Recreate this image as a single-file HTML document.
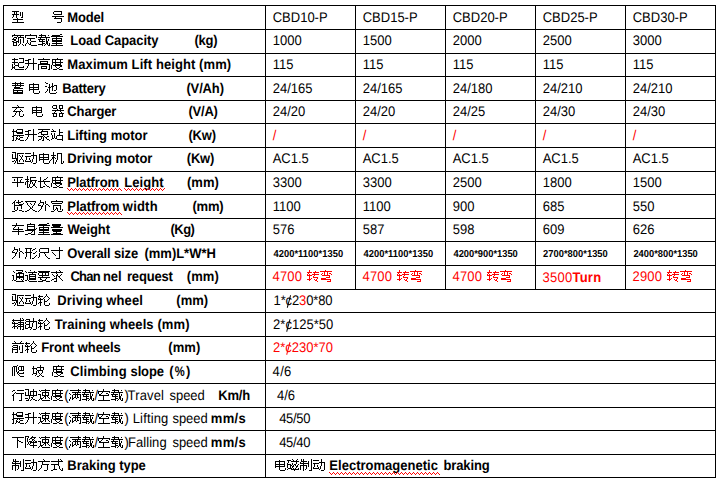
<!DOCTYPE html>
<html lang="zh"><head><meta charset="utf-8"><title>Pallet truck specifications</title>
<style>
html,body{margin:0;padding:0;background:#fff;}
body{width:720px;height:484px;position:relative;overflow:hidden;font-family:"Liberation Sans",sans-serif;font-size:14.0px;color:#000;}
.h,.v{position:absolute;background:#000;}
.h{height:1px;}
.v{width:1px;}
.row{position:absolute;left:0;width:720px;height:24px;}
.t{position:absolute;top:0;white-space:pre;line-height:24px;height:24px;left:0;transform-origin:0 0;text-rendering:geometricPrecision;}
.c{position:absolute;top:5px;height:15px;line-height:0;display:flex;}
.b{font-weight:bold;}
.r{color:#f00;}
.s{font-weight:bold;font-size:10.05px;line-height:25px;top:1px;}
.p{font-size:12px;}
.cj{display:flex;}
.g{width:13px;height:15px;fill:currentColor;display:block;flex:none;overflow:visible;}
.ct{position:relative;display:inline-block;}
.ct i{position:absolute;left:2.6px;top:6.5px;width:1px;height:13px;background:currentColor;transform:rotate(16deg);}
.sq{position:absolute;top:18px;fill:#f00;display:block;}
</style></head><body>
<svg width="0" height="0" style="position:absolute"><defs><path id="u4E0B" d="M1 2h12v1h-12zM6 3h1v1h-1zM6 4h1v1h-1zM6 5h2v1h-2zM6 6h1v1h-1zM8 6h2v1h-2zM6 7h1v1h-1zM10 7h2v1h-2zM6 8h1v1h-1zM6 9h1v1h-1zM6 10h1v1h-1zM6 11h1v1h-1zM6 12h1v1h-1z"/><path id="u5145" d="M6 1h1v1h-1zM7 2h1v1h-1zM1 3h12v1h-12zM5 4h1v1h-1zM4 5h1v1h-1zM9 5h1v1h-1zM3 6h1v1h-1zM10 6h1v1h-1zM2 7h8v1h-8zM11 7h1v1h-1zM5 8h1v1h-1zM8 8h1v1h-1zM4 9h1v1h-1zM8 9h1v1h-1zM4 10h1v1h-1zM8 10h1v1h-1zM12 10h1v1h-1zM3 11h1v1h-1zM8 11h1v1h-1zM12 11h1v1h-1zM1 12h2v1h-2zM9 12h3v1h-3z"/><path id="u5236" d="M2 1h1v1h-1zM4 1h1v1h-1zM12 1h1v1h-1zM2 2h1v1h-1zM4 2h1v1h-1zM12 2h1v1h-1zM2 3h6v1h-6zM9 3h1v1h-1zM12 3h1v1h-1zM1 4h1v1h-1zM4 4h1v1h-1zM9 4h1v1h-1zM12 4h1v1h-1zM1 5h9v1h-9zM12 5h1v1h-1zM4 6h1v1h-1zM9 6h1v1h-1zM12 6h1v1h-1zM1 7h7v1h-7zM9 7h1v1h-1zM12 7h1v1h-1zM1 8h1v1h-1zM4 8h1v1h-1zM7 8h1v1h-1zM9 8h1v1h-1zM12 8h1v1h-1zM1 9h1v1h-1zM4 9h1v1h-1zM7 9h1v1h-1zM12 9h1v1h-1zM1 10h1v1h-1zM4 10h1v1h-1zM7 10h1v1h-1zM12 10h1v1h-1zM1 11h1v1h-1zM4 11h1v1h-1zM6 11h1v1h-1zM12 11h1v1h-1zM4 12h1v1h-1zM10 12h3v1h-3z"/><path id="u524D" d="M3 1h1v1h-1zM10 1h1v1h-1zM4 2h1v1h-1zM9 2h1v1h-1zM1 3h12v1h-12zM2 5h5v1h-5zM11 5h1v1h-1zM1 6h1v1h-1zM6 6h1v1h-1zM8 6h1v1h-1zM11 6h1v1h-1zM2 7h5v1h-5zM8 7h1v1h-1zM11 7h1v1h-1zM1 8h1v1h-1zM6 8h1v1h-1zM8 8h1v1h-1zM11 8h1v1h-1zM1 9h6v1h-6zM8 9h1v1h-1zM11 9h1v1h-1zM1 10h1v1h-1zM6 10h1v1h-1zM11 10h1v1h-1zM1 11h1v1h-1zM6 11h1v1h-1zM11 11h1v1h-1zM1 12h1v1h-1zM4 12h3v1h-3zM9 12h3v1h-3z"/><path id="u52A8" d="M9 1h1v1h-1zM1 2h6v1h-6zM9 2h1v1h-1zM9 3h1v1h-1zM7 4h6v1h-6zM1 5h6v1h-6zM9 5h1v1h-1zM12 5h1v1h-1zM2 6h1v1h-1zM9 6h1v1h-1zM12 6h1v1h-1zM2 7h1v1h-1zM5 7h1v1h-1zM9 7h1v1h-1zM12 7h1v1h-1zM2 8h1v1h-1zM5 8h1v1h-1zM8 8h1v1h-1zM12 8h1v1h-1zM1 9h1v1h-1zM6 9h1v1h-1zM8 9h1v1h-1zM12 9h1v1h-1zM1 10h6v1h-6zM8 10h1v1h-1zM12 10h1v1h-1zM7 11h1v1h-1zM12 11h1v1h-1zM9 12h3v1h-3z"/><path id="u52A9" d="M9 1h1v1h-1zM2 2h4v1h-4zM9 2h1v1h-1zM1 3h1v1h-1zM5 3h1v1h-1zM9 3h1v1h-1zM2 4h11v1h-11zM1 5h1v1h-1zM5 5h1v1h-1zM9 5h1v1h-1zM12 5h1v1h-1zM1 6h1v1h-1zM5 6h1v1h-1zM8 6h1v1h-1zM12 6h1v1h-1zM2 7h4v1h-4zM8 7h1v1h-1zM12 7h1v1h-1zM1 8h1v1h-1zM5 8h1v1h-1zM8 8h1v1h-1zM12 8h1v1h-1zM1 9h1v1h-1zM5 9h1v1h-1zM8 9h1v1h-1zM12 9h1v1h-1zM1 10h1v1h-1zM4 10h4v1h-4zM12 10h1v1h-1zM1 11h3v1h-3zM7 11h1v1h-1zM12 11h1v1h-1zM6 12h1v1h-1zM9 12h3v1h-3z"/><path id="u5347" d="M9 1h1v1h-1zM4 2h3v1h-3zM9 2h1v1h-1zM1 3h4v1h-4zM9 3h1v1h-1zM4 4h1v1h-1zM9 4h1v1h-1zM4 5h1v1h-1zM9 5h1v1h-1zM1 6h12v1h-12zM4 7h1v1h-1zM9 7h1v1h-1zM4 8h1v1h-1zM9 8h1v1h-1zM3 9h1v1h-1zM9 9h1v1h-1zM3 10h1v1h-1zM9 10h1v1h-1zM2 11h1v1h-1zM9 11h1v1h-1zM1 12h1v1h-1zM9 12h1v1h-1z"/><path id="u53C9" d="M1 2h11v1h-11zM2 3h1v1h-1zM11 3h1v1h-1zM3 4h1v1h-1zM6 4h1v1h-1zM10 4h1v1h-1zM3 5h1v1h-1zM7 5h1v1h-1zM10 5h1v1h-1zM4 6h1v1h-1zM9 6h1v1h-1zM5 7h1v1h-1zM8 7h1v1h-1zM6 8h1v1h-1zM8 8h1v1h-1zM6 9h2v1h-2zM5 10h1v1h-1zM8 10h1v1h-1zM3 11h2v1h-2zM9 11h2v1h-2zM1 12h2v1h-2zM11 12h2v1h-2z"/><path id="u53F7" d="M3 1h8v1h-8zM2 2h1v1h-1zM10 2h1v1h-1zM2 3h1v1h-1zM10 3h1v1h-1zM3 4h8v1h-8zM1 6h12v1h-12zM4 7h1v1h-1zM3 8h8v1h-8zM10 9h1v1h-1zM10 10h1v1h-1zM10 11h1v1h-1zM6 12h4v1h-4z"/><path id="u5668" d="M2 1h4v1h-4zM8 1h4v1h-4zM1 2h1v1h-1zM5 2h1v1h-1zM8 2h1v1h-1zM11 2h1v1h-1zM1 3h1v1h-1zM5 3h1v1h-1zM8 3h1v1h-1zM11 3h1v1h-1zM2 4h4v1h-4zM8 4h4v1h-4zM6 5h1v1h-1zM9 5h1v1h-1zM1 6h12v1h-12zM4 7h1v1h-1zM9 7h1v1h-1zM3 8h1v1h-1zM10 8h1v1h-1zM1 9h5v1h-5zM8 9h5v1h-5zM2 10h1v1h-1zM5 10h1v1h-1zM8 10h1v1h-1zM11 10h1v1h-1zM2 11h1v1h-1zM5 11h1v1h-1zM8 11h1v1h-1zM11 11h1v1h-1zM2 12h4v1h-4zM8 12h4v1h-4z"/><path id="u5761" d="M9 1h1v1h-1zM2 2h1v1h-1zM9 2h1v1h-1zM2 3h1v1h-1zM6 3h7v1h-7zM1 4h5v1h-5zM9 4h1v1h-1zM12 4h1v1h-1zM2 5h1v1h-1zM5 5h1v1h-1zM9 5h1v1h-1zM12 5h1v1h-1zM2 6h1v1h-1zM6 6h6v1h-6zM2 7h1v1h-1zM5 7h1v1h-1zM7 7h1v1h-1zM11 7h1v1h-1zM2 8h1v1h-1zM5 8h1v1h-1zM7 8h1v1h-1zM11 8h1v1h-1zM2 9h4v1h-4zM8 9h1v1h-1zM10 9h1v1h-1zM1 10h1v1h-1zM5 10h1v1h-1zM9 10h1v1h-1zM4 11h1v1h-1zM8 11h1v1h-1zM10 11h1v1h-1zM6 12h2v1h-2zM11 12h2v1h-2z"/><path id="u578B" d="M1 1h7v1h-7zM3 2h1v1h-1zM5 2h1v1h-1zM9 2h1v1h-1zM11 2h1v1h-1zM3 3h1v1h-1zM5 3h1v1h-1zM9 3h1v1h-1zM11 3h1v1h-1zM1 4h7v1h-7zM9 4h1v1h-1zM11 4h1v1h-1zM2 5h1v1h-1zM5 5h1v1h-1zM9 5h1v1h-1zM11 5h1v1h-1zM2 6h1v1h-1zM5 6h1v1h-1zM11 6h1v1h-1zM1 7h1v1h-1zM5 7h1v1h-1zM10 7h2v1h-2zM6 8h1v1h-1zM2 9h10v1h-10zM6 10h1v1h-1zM6 11h1v1h-1zM1 12h12v1h-12z"/><path id="u5916" d="M3 1h1v1h-1zM3 2h1v1h-1zM8 2h1v1h-1zM3 3h4v1h-4zM8 3h1v1h-1zM2 4h1v1h-1zM6 4h1v1h-1zM8 4h1v1h-1zM1 5h1v1h-1zM6 5h1v1h-1zM9 5h2v1h-2zM1 6h3v1h-3zM5 6h1v1h-1zM8 6h1v1h-1zM11 6h1v1h-1zM4 7h2v1h-2zM8 7h1v1h-1zM12 7h1v1h-1zM4 8h1v1h-1zM8 8h1v1h-1zM4 9h1v1h-1zM8 9h1v1h-1zM3 10h1v1h-1zM8 10h1v1h-1zM2 11h1v1h-1zM8 11h1v1h-1zM1 12h1v1h-1z"/><path id="u5B9A" d="M6 1h1v1h-1zM1 2h12v1h-12zM1 3h1v1h-1zM12 3h1v1h-1zM1 4h1v1h-1zM12 4h1v1h-1zM3 5h8v1h-8zM6 6h1v1h-1zM3 7h1v1h-1zM6 7h1v1h-1zM3 8h1v1h-1zM7 8h5v1h-5zM3 9h1v1h-1zM6 9h1v1h-1zM2 10h1v1h-1zM4 10h1v1h-1zM6 10h1v1h-1zM1 11h1v1h-1zM5 11h2v1h-2zM1 12h1v1h-1zM7 12h6v1h-6z"/><path id="u5BBD" d="M6 1h1v1h-1zM1 2h12v1h-12zM1 3h1v1h-1zM12 3h1v1h-1zM2 4h10v1h-10zM3 6h8v1h-8zM3 7h1v1h-1zM10 7h1v1h-1zM3 8h1v1h-1zM6 8h1v1h-1zM10 8h1v1h-1zM3 9h1v1h-1zM6 9h2v1h-2zM10 9h1v1h-1zM3 10h1v1h-1zM5 10h1v1h-1zM7 10h1v1h-1zM10 10h1v1h-1zM12 10h1v1h-1zM4 11h1v1h-1zM7 11h1v1h-1zM12 11h1v1h-1zM1 12h3v1h-3zM8 12h4v1h-4z"/><path id="u5BF8" d="M9 1h1v1h-1zM9 2h1v1h-1zM9 3h1v1h-1zM1 4h12v1h-12zM9 5h1v1h-1zM2 6h1v1h-1zM9 6h1v1h-1zM3 7h1v1h-1zM9 7h1v1h-1zM4 8h1v1h-1zM9 8h1v1h-1zM5 9h1v1h-1zM9 9h1v1h-1zM9 10h1v1h-1zM9 11h1v1h-1zM6 12h4v1h-4z"/><path id="u5C3A" d="M3 2h9v1h-9zM2 3h1v1h-1zM11 3h1v1h-1zM2 4h1v1h-1zM11 4h1v1h-1zM2 5h1v1h-1zM11 5h1v1h-1zM3 6h9v1h-9zM2 7h1v1h-1zM7 7h1v1h-1zM2 8h1v1h-1zM8 8h1v1h-1zM2 9h1v1h-1zM8 9h1v1h-1zM2 10h1v1h-1zM9 10h1v1h-1zM1 11h1v1h-1zM10 11h1v1h-1zM11 12h2v1h-2z"/><path id="u5E73" d="M1 2h11v1h-11zM6 3h1v1h-1zM3 4h1v1h-1zM6 4h1v1h-1zM10 4h1v1h-1zM3 5h1v1h-1zM6 5h1v1h-1zM9 5h1v1h-1zM6 6h1v1h-1zM9 6h1v1h-1zM1 7h12v1h-12zM6 8h1v1h-1zM6 9h1v1h-1zM6 10h1v1h-1zM6 11h1v1h-1z"/><path id="u5EA6" d="M7 1h1v1h-1zM2 2h11v1h-11zM2 3h1v1h-1zM5 3h1v1h-1zM10 3h1v1h-1zM2 4h1v1h-1zM5 4h1v1h-1zM10 4h1v1h-1zM2 5h11v1h-11zM2 6h1v1h-1zM5 6h1v1h-1zM10 6h1v1h-1zM2 7h1v1h-1zM5 7h6v1h-6zM1 8h1v1h-1zM3 8h9v1h-9zM1 9h1v1h-1zM5 9h1v1h-1zM10 9h2v1h-2zM1 10h1v1h-1zM6 10h1v1h-1zM9 10h1v1h-1zM1 11h1v1h-1zM7 11h2v1h-2zM3 12h4v1h-4zM9 12h4v1h-4z"/><path id="u5F0F" d="M8 1h1v1h-1zM10 1h1v1h-1zM8 2h1v1h-1zM11 2h1v1h-1zM1 3h12v1h-12zM8 4h1v1h-1zM8 5h1v1h-1zM1 6h8v1h-8zM4 7h1v1h-1zM8 7h1v1h-1zM4 8h1v1h-1zM9 8h1v1h-1zM4 9h1v1h-1zM9 9h1v1h-1zM4 10h1v1h-1zM9 10h1v1h-1zM12 10h1v1h-1zM3 11h4v1h-4zM10 11h1v1h-1zM12 11h1v1h-1zM1 12h2v1h-2zM11 12h2v1h-2z"/><path id="u5F2F" d="M6 1h1v1h-1zM1 2h12v1h-12zM5 3h1v1h-1zM8 3h1v1h-1zM3 4h1v1h-1zM5 4h1v1h-1zM8 4h1v1h-1zM10 4h2v1h-2zM2 5h1v1h-1zM5 5h1v1h-1zM8 5h1v1h-1zM12 5h1v1h-1zM3 6h8v1h-8zM10 7h1v1h-1zM7 8h4v1h-4zM2 9h5v1h-5zM2 10h10v1h-10zM11 11h1v1h-1zM8 12h4v1h-4z"/><path id="u5F62" d="M1 2h7v1h-7zM11 2h1v1h-1zM2 3h1v1h-1zM6 3h1v1h-1zM9 3h2v1h-2zM2 4h1v1h-1zM6 4h1v1h-1zM8 4h1v1h-1zM2 5h1v1h-1zM6 5h1v1h-1zM12 5h1v1h-1zM1 6h7v1h-7zM11 6h1v1h-1zM2 7h1v1h-1zM6 7h1v1h-1zM9 7h2v1h-2zM2 8h1v1h-1zM6 8h1v1h-1zM2 9h1v1h-1zM6 9h1v1h-1zM12 9h1v1h-1zM2 10h1v1h-1zM6 10h1v1h-1zM11 10h1v1h-1zM1 11h1v1h-1zM6 11h1v1h-1zM10 11h1v1h-1zM1 12h1v1h-1zM6 12h1v1h-1zM8 12h2v1h-2z"/><path id="u63D0" d="M2 1h1v1h-1zM6 1h6v1h-6zM2 2h1v1h-1zM5 2h1v1h-1zM11 2h1v1h-1zM1 3h5v1h-5zM11 3h1v1h-1zM2 4h1v1h-1zM5 4h7v1h-7zM2 5h1v1h-1zM6 5h6v1h-6zM2 6h1v1h-1zM2 7h11v1h-11zM1 8h2v1h-2zM6 8h1v1h-1zM8 8h1v1h-1zM2 9h1v1h-1zM5 9h1v1h-1zM9 9h3v1h-3zM2 10h1v1h-1zM5 10h2v1h-2zM8 10h1v1h-1zM2 11h1v1h-1zM5 11h1v1h-1zM7 11h2v1h-2zM1 12h2v1h-2zM4 12h1v1h-1zM9 12h4v1h-4z"/><path id="u65B9" d="M6 1h1v1h-1zM7 2h1v1h-1zM1 3h12v1h-12zM5 4h1v1h-1zM5 5h1v1h-1zM5 6h7v1h-7zM4 7h1v1h-1zM10 7h1v1h-1zM4 8h1v1h-1zM10 8h1v1h-1zM4 9h1v1h-1zM10 9h1v1h-1zM3 10h1v1h-1zM10 10h1v1h-1zM2 11h1v1h-1zM10 11h1v1h-1zM1 12h1v1h-1zM7 12h3v1h-3z"/><path id="u673A" d="M3 1h1v1h-1zM3 2h1v1h-1zM7 2h5v1h-5zM3 3h1v1h-1zM7 3h1v1h-1zM11 3h1v1h-1zM1 4h5v1h-5zM7 4h1v1h-1zM11 4h1v1h-1zM3 5h1v1h-1zM7 5h1v1h-1zM11 5h1v1h-1zM2 6h3v1h-3zM7 6h1v1h-1zM11 6h1v1h-1zM2 7h2v1h-2zM5 7h1v1h-1zM7 7h1v1h-1zM11 7h1v1h-1zM1 8h1v1h-1zM3 8h1v1h-1zM7 8h1v1h-1zM11 8h1v1h-1zM0 9h1v1h-1zM3 9h1v1h-1zM6 9h1v1h-1zM11 9h1v1h-1zM3 10h1v1h-1zM6 10h1v1h-1zM11 10h1v1h-1zM13 10h1v1h-1zM3 11h1v1h-1zM5 11h1v1h-1zM11 11h1v1h-1zM13 11h1v1h-1zM3 12h1v1h-1zM5 12h1v1h-1zM11 12h2v1h-2z"/><path id="u677F" d="M3 1h1v1h-1zM3 2h1v1h-1zM6 2h6v1h-6zM3 3h1v1h-1zM6 3h1v1h-1zM1 4h4v1h-4zM6 4h1v1h-1zM3 5h1v1h-1zM6 5h7v1h-7zM2 6h3v1h-3zM6 6h2v1h-2zM11 6h1v1h-1zM1 7h1v1h-1zM3 7h1v1h-1zM6 7h1v1h-1zM8 7h1v1h-1zM11 7h1v1h-1zM1 8h1v1h-1zM3 8h1v1h-1zM6 8h1v1h-1zM8 8h1v1h-1zM10 8h1v1h-1zM1 9h1v1h-1zM3 9h1v1h-1zM5 9h1v1h-1zM9 9h2v1h-2zM3 10h1v1h-1zM5 10h1v1h-1zM9 10h2v1h-2zM3 11h1v1h-1zM5 11h1v1h-1zM8 11h1v1h-1zM11 11h1v1h-1zM3 12h2v1h-2zM6 12h2v1h-2zM12 12h1v1h-1z"/><path id="u6C42" d="M9 1h1v1h-1zM6 2h1v1h-1zM10 2h1v1h-1zM1 3h12v1h-12zM6 4h1v1h-1zM2 5h1v1h-1zM7 5h1v1h-1zM11 5h1v1h-1zM3 6h1v1h-1zM6 6h2v1h-2zM10 6h1v1h-1zM4 7h1v1h-1zM6 7h1v1h-1zM8 7h2v1h-2zM6 8h1v1h-1zM9 8h1v1h-1zM4 9h3v1h-3zM10 9h1v1h-1zM2 10h2v1h-2zM6 10h1v1h-1zM11 10h1v1h-1zM1 11h1v1h-1zM6 11h1v1h-1zM12 11h1v1h-1zM4 12h3v1h-3z"/><path id="u6C60" d="M1 1h1v1h-1zM2 2h2v1h-2zM8 2h1v1h-1zM5 3h1v1h-1zM8 3h1v1h-1zM5 4h1v1h-1zM8 4h1v1h-1zM10 4h3v1h-3zM1 5h2v1h-2zM5 5h1v1h-1zM7 5h3v1h-3zM12 5h1v1h-1zM4 6h3v1h-3zM8 6h1v1h-1zM12 6h1v1h-1zM5 7h1v1h-1zM8 7h1v1h-1zM12 7h1v1h-1zM3 8h1v1h-1zM5 8h1v1h-1zM8 8h1v1h-1zM12 8h1v1h-1zM3 9h1v1h-1zM5 9h1v1h-1zM8 9h1v1h-1zM10 9h2v1h-2zM2 10h1v1h-1zM5 10h1v1h-1zM1 11h1v1h-1zM5 11h1v1h-1zM12 11h1v1h-1zM6 12h6v1h-6z"/><path id="u6CF5" d="M1 1h12v1h-12zM5 2h1v1h-1zM4 3h7v1h-7zM2 4h3v1h-3zM10 4h1v1h-1zM1 5h1v1h-1zM4 5h1v1h-1zM10 5h1v1h-1zM4 6h7v1h-7zM6 7h1v1h-1zM1 8h5v1h-5zM7 8h1v1h-1zM10 8h2v1h-2zM4 9h1v1h-1zM6 9h1v1h-1zM8 9h2v1h-2zM4 10h1v1h-1zM6 10h1v1h-1zM9 10h1v1h-1zM2 11h2v1h-2zM6 11h1v1h-1zM10 11h2v1h-2zM1 12h1v1h-1zM5 12h2v1h-2zM12 12h1v1h-1z"/><path id="u6EE1" d="M10 1h1v1h-1zM2 2h11v1h-11zM10 3h1v1h-1zM4 4h9v1h-9zM1 5h1v1h-1zM7 5h1v1h-1zM9 5h1v1h-1zM2 6h1v1h-1zM5 6h8v1h-8zM4 7h1v1h-1zM7 7h1v1h-1zM9 7h1v1h-1zM12 7h1v1h-1zM4 8h1v1h-1zM7 8h1v1h-1zM9 8h1v1h-1zM12 8h1v1h-1zM2 9h1v1h-1zM4 9h1v1h-1zM6 9h2v1h-2zM9 9h2v1h-2zM12 9h1v1h-1zM2 10h1v1h-1zM4 10h2v1h-2zM8 10h1v1h-1zM12 10h1v1h-1zM1 11h1v1h-1zM4 11h1v1h-1zM12 11h1v1h-1zM1 12h1v1h-1zM11 12h2v1h-2z"/><path id="u722C" d="M6 1h1v1h-1zM2 2h4v1h-4zM8 2h5v1h-5zM1 3h1v1h-1zM3 3h1v1h-1zM5 3h1v1h-1zM7 3h1v1h-1zM10 3h1v1h-1zM12 3h1v1h-1zM1 4h1v1h-1zM3 4h1v1h-1zM5 4h1v1h-1zM7 4h1v1h-1zM10 4h1v1h-1zM12 4h1v1h-1zM1 5h1v1h-1zM3 5h1v1h-1zM5 5h1v1h-1zM7 5h1v1h-1zM10 5h1v1h-1zM12 5h1v1h-1zM1 6h1v1h-1zM3 6h1v1h-1zM5 6h1v1h-1zM8 6h5v1h-5zM1 7h1v1h-1zM3 7h1v1h-1zM5 7h1v1h-1zM7 7h1v1h-1zM1 8h1v1h-1zM3 8h1v1h-1zM6 8h2v1h-2zM12 8h1v1h-1zM1 9h1v1h-1zM3 9h1v1h-1zM6 9h1v1h-1zM8 9h5v1h-5zM1 10h1v1h-1zM3 10h1v1h-1zM7 10h1v1h-1zM1 11h1v1h-1zM3 11h1v1h-1zM8 11h1v1h-1zM9 12h4v1h-4z"/><path id="u7535" d="M6 2h1v1h-1zM2 3h10v1h-10zM2 4h1v1h-1zM6 4h1v1h-1zM11 4h1v1h-1zM2 5h1v1h-1zM6 5h1v1h-1zM11 5h1v1h-1zM2 6h10v1h-10zM2 7h1v1h-1zM6 7h1v1h-1zM11 7h1v1h-1zM2 8h10v1h-10zM2 9h1v1h-1zM6 9h1v1h-1zM6 10h1v1h-1zM12 10h1v1h-1zM6 11h1v1h-1zM12 11h1v1h-1zM7 12h5v1h-5z"/><path id="u78C1" d="M6 1h1v1h-1zM11 1h1v1h-1zM1 2h4v1h-4zM7 2h1v1h-1zM10 2h1v1h-1zM2 3h1v1h-1zM5 3h8v1h-8zM2 4h1v1h-1zM10 4h1v1h-1zM1 5h1v1h-1zM6 5h1v1h-1zM10 5h1v1h-1zM1 6h4v1h-4zM6 6h1v1h-1zM8 6h2v1h-2zM12 6h1v1h-1zM1 7h1v1h-1zM4 7h2v1h-2zM7 7h1v1h-1zM9 7h1v1h-1zM11 7h1v1h-1zM1 8h1v1h-1zM4 8h1v1h-1zM6 8h2v1h-2zM10 8h2v1h-2zM1 9h1v1h-1zM4 9h1v1h-1zM6 9h1v1h-1zM10 9h1v1h-1zM2 10h4v1h-4zM7 10h1v1h-1zM9 10h1v1h-1zM12 10h1v1h-1zM1 11h1v1h-1zM5 11h8v1h-8zM8 12h1v1h-1z"/><path id="u7A7A" d="M6 1h1v1h-1zM6 2h1v1h-1zM1 3h12v1h-12zM1 4h1v1h-1zM5 4h1v1h-1zM12 4h1v1h-1zM1 5h1v1h-1zM4 5h1v1h-1zM9 5h2v1h-2zM2 6h2v1h-2zM11 6h1v1h-1zM2 7h10v1h-10zM6 8h1v1h-1zM6 9h1v1h-1zM6 10h1v1h-1zM6 11h1v1h-1zM1 12h12v1h-12z"/><path id="u7AD9" d="M2 1h1v1h-1zM9 1h1v1h-1zM3 2h1v1h-1zM9 2h1v1h-1zM1 3h5v1h-5zM9 3h1v1h-1zM9 4h4v1h-4zM1 5h1v1h-1zM4 5h1v1h-1zM9 5h1v1h-1zM1 6h1v1h-1zM4 6h1v1h-1zM9 6h1v1h-1zM2 7h1v1h-1zM4 7h1v1h-1zM7 7h6v1h-6zM2 8h1v1h-1zM4 8h1v1h-1zM6 8h1v1h-1zM12 8h1v1h-1zM2 9h1v1h-1zM4 9h1v1h-1zM6 9h1v1h-1zM12 9h1v1h-1zM2 10h2v1h-2zM5 10h2v1h-2zM12 10h1v1h-1zM1 11h1v1h-1zM7 11h6v1h-6zM12 12h1v1h-1z"/><path id="u84C4" d="M4 1h1v1h-1zM9 1h1v1h-1zM1 2h12v1h-12zM4 3h1v1h-1zM6 3h1v1h-1zM9 3h1v1h-1zM1 4h12v1h-12zM4 5h1v1h-1zM9 5h1v1h-1zM3 6h6v1h-6zM3 7h9v1h-9zM2 8h1v1h-1zM2 9h10v1h-10zM2 10h1v1h-1zM6 10h1v1h-1zM11 10h1v1h-1zM2 11h10v1h-10zM2 12h10v1h-10z"/><path id="u884C" d="M2 2h2v1h-2zM6 2h7v1h-7zM1 3h1v1h-1zM4 4h1v1h-1zM3 5h1v1h-1zM5 5h8v1h-8zM2 6h1v1h-1zM10 6h1v1h-1zM1 7h2v1h-2zM10 7h1v1h-1zM2 8h1v1h-1zM10 8h1v1h-1zM2 9h1v1h-1zM10 9h1v1h-1zM2 10h1v1h-1zM10 10h1v1h-1zM2 11h1v1h-1zM10 11h1v1h-1zM2 12h1v1h-1zM8 12h3v1h-3z"/><path id="u8981" d="M1 2h12v1h-12zM2 3h10v1h-10zM1 4h1v1h-1zM5 4h1v1h-1zM8 4h1v1h-1zM11 4h1v1h-1zM1 5h1v1h-1zM5 5h1v1h-1zM8 5h1v1h-1zM11 5h1v1h-1zM2 6h10v1h-10zM5 7h1v1h-1zM1 8h12v1h-12zM3 9h1v1h-1zM9 9h1v1h-1zM3 10h2v1h-2zM8 10h1v1h-1zM5 11h4v1h-4zM1 12h5v1h-5zM9 12h4v1h-4z"/><path id="u8D27" d="M4 1h1v1h-1zM7 1h1v1h-1zM3 2h1v1h-1zM7 2h1v1h-1zM10 2h2v1h-2zM2 3h2v1h-2zM5 3h5v1h-5zM1 4h1v1h-1zM3 4h1v1h-1zM7 4h1v1h-1zM12 4h1v1h-1zM3 5h1v1h-1zM8 5h4v1h-4zM3 6h8v1h-8zM3 7h1v1h-1zM10 7h1v1h-1zM3 8h1v1h-1zM6 8h1v1h-1zM10 8h1v1h-1zM3 9h1v1h-1zM6 9h1v1h-1zM10 9h1v1h-1zM3 10h1v1h-1zM6 10h1v1h-1zM4 11h2v1h-2zM8 11h3v1h-3zM1 12h3v1h-3zM11 12h2v1h-2z"/><path id="u8D77" d="M3 1h1v1h-1zM8 1h5v1h-5zM1 2h6v1h-6zM12 2h1v1h-1zM3 3h1v1h-1zM12 3h1v1h-1zM3 4h1v1h-1zM12 4h1v1h-1zM1 5h6v1h-6zM8 5h5v1h-5zM3 6h1v1h-1zM7 6h1v1h-1zM1 7h1v1h-1zM3 7h1v1h-1zM7 7h1v1h-1zM1 8h1v1h-1zM4 8h4v1h-4zM1 9h1v1h-1zM3 9h1v1h-1zM7 9h1v1h-1zM12 9h1v1h-1zM1 10h3v1h-3zM8 10h5v1h-5zM1 11h1v1h-1zM3 11h1v1h-1zM0 12h1v1h-1zM4 12h9v1h-9z"/><path id="u8EAB" d="M6 1h1v1h-1zM3 2h8v1h-8zM3 3h1v1h-1zM10 3h1v1h-1zM3 4h8v1h-8zM3 5h1v1h-1zM10 5h1v1h-1zM3 6h1v1h-1zM10 6h1v1h-1zM12 6h1v1h-1zM3 7h9v1h-9zM1 8h10v1h-10zM8 9h1v1h-1zM10 9h1v1h-1zM7 10h1v1h-1zM10 10h1v1h-1zM4 11h3v1h-3zM10 11h1v1h-1zM1 12h3v1h-3zM7 12h4v1h-4z"/><path id="u8F66" d="M5 1h1v1h-1zM5 2h1v1h-1zM1 3h12v1h-12zM4 4h1v1h-1zM3 5h1v1h-1zM7 5h1v1h-1zM2 6h1v1h-1zM7 6h1v1h-1zM2 7h10v1h-10zM7 8h1v1h-1zM1 9h12v1h-12zM7 10h1v1h-1zM7 11h1v1h-1zM7 12h1v1h-1z"/><path id="u8F6C" d="M3 1h1v1h-1zM3 2h1v1h-1zM9 2h1v1h-1zM1 3h5v1h-5zM7 3h6v1h-6zM2 4h1v1h-1zM8 4h1v1h-1zM1 5h1v1h-1zM3 5h1v1h-1zM6 5h7v1h-7zM1 6h5v1h-5zM8 6h1v1h-1zM3 7h1v1h-1zM7 7h1v1h-1zM3 8h1v1h-1zM7 8h5v1h-5zM3 9h1v1h-1zM5 9h1v1h-1zM11 9h1v1h-1zM1 10h4v1h-4zM8 10h1v1h-1zM10 10h1v1h-1zM3 11h1v1h-1zM9 11h2v1h-2zM11 12h1v1h-1z"/><path id="u8F6E" d="M9 1h1v1h-1zM2 2h1v1h-1zM9 2h1v1h-1zM1 3h5v1h-5zM8 3h1v1h-1zM10 3h1v1h-1zM2 4h1v1h-1zM7 4h1v1h-1zM11 4h1v1h-1zM1 5h1v1h-1zM3 5h1v1h-1zM6 5h1v1h-1zM12 5h1v1h-1zM1 6h5v1h-5zM7 6h1v1h-1zM11 6h1v1h-1zM3 7h1v1h-1zM7 7h1v1h-1zM10 7h1v1h-1zM3 8h1v1h-1zM7 8h3v1h-3zM2 9h3v1h-3zM7 9h1v1h-1zM1 10h1v1h-1zM3 10h1v1h-1zM7 10h1v1h-1zM12 10h1v1h-1zM3 11h1v1h-1zM7 11h1v1h-1zM12 11h1v1h-1zM3 12h1v1h-1zM8 12h4v1h-4z"/><path id="u8F7D" d="M4 1h1v1h-1zM2 2h7v1h-7zM11 2h1v1h-1zM4 3h1v1h-1zM8 3h1v1h-1zM1 4h12v1h-12zM3 5h1v1h-1zM9 5h1v1h-1zM1 6h7v1h-7zM9 6h1v1h-1zM11 6h1v1h-1zM2 7h1v1h-1zM5 7h1v1h-1zM9 7h1v1h-1zM11 7h1v1h-1zM2 8h6v1h-6zM9 8h2v1h-2zM5 9h1v1h-1zM9 9h2v1h-2zM5 10h3v1h-3zM9 10h2v1h-2zM12 10h1v1h-1zM1 11h5v1h-5zM8 11h1v1h-1zM10 11h1v1h-1zM12 11h1v1h-1zM5 12h1v1h-1zM7 12h1v1h-1zM11 12h2v1h-2z"/><path id="u8F85" d="M9 1h1v1h-1zM11 1h1v1h-1zM2 2h1v1h-1zM9 2h1v1h-1zM12 2h1v1h-1zM1 3h12v1h-12zM2 4h1v1h-1zM9 4h1v1h-1zM1 5h1v1h-1zM3 5h1v1h-1zM7 5h6v1h-6zM1 6h6v1h-6zM9 6h1v1h-1zM12 6h1v1h-1zM3 7h1v1h-1zM7 7h6v1h-6zM3 8h1v1h-1zM6 8h1v1h-1zM9 8h1v1h-1zM12 8h1v1h-1zM2 9h4v1h-4zM7 9h6v1h-6zM1 10h1v1h-1zM3 10h1v1h-1zM6 10h1v1h-1zM9 10h1v1h-1zM12 10h1v1h-1zM3 11h1v1h-1zM6 11h1v1h-1zM9 11h1v1h-1zM12 11h1v1h-1zM9 12h1v1h-1zM11 12h2v1h-2z"/><path id="u901A" d="M5 1h7v1h-7zM2 2h1v1h-1zM11 2h1v1h-1zM3 3h1v1h-1zM7 3h4v1h-4zM5 4h8v1h-8zM5 5h1v1h-1zM8 5h1v1h-1zM12 5h1v1h-1zM1 6h2v1h-2zM5 6h1v1h-1zM8 6h1v1h-1zM12 6h1v1h-1zM2 7h1v1h-1zM5 7h8v1h-8zM2 8h1v1h-1zM5 8h8v1h-8zM2 9h1v1h-1zM5 9h1v1h-1zM8 9h1v1h-1zM12 9h1v1h-1zM2 10h1v1h-1zM5 10h1v1h-1zM10 10h1v1h-1zM12 10h1v1h-1zM1 11h1v1h-1zM3 11h2v1h-2zM11 11h1v1h-1zM5 12h8v1h-8z"/><path id="u901F" d="M8 1h1v1h-1zM2 2h1v1h-1zM4 2h9v1h-9zM3 3h1v1h-1zM8 3h1v1h-1zM5 4h7v1h-7zM5 5h1v1h-1zM8 5h1v1h-1zM11 5h1v1h-1zM1 6h3v1h-3zM5 6h1v1h-1zM8 6h1v1h-1zM11 6h1v1h-1zM3 7h1v1h-1zM5 7h7v1h-7zM3 8h1v1h-1zM7 8h2v1h-2zM10 8h1v1h-1zM3 9h1v1h-1zM6 9h1v1h-1zM8 9h1v1h-1zM11 9h1v1h-1zM3 10h3v1h-3zM8 10h1v1h-1zM12 10h1v1h-1zM2 11h1v1h-1zM4 11h1v1h-1zM1 12h1v1h-1zM5 12h8v1h-8z"/><path id="u9053" d="M6 1h1v1h-1zM1 2h1v1h-1zM10 2h1v1h-1zM2 3h1v1h-1zM4 3h9v1h-9zM8 4h1v1h-1zM5 5h7v1h-7zM1 6h3v1h-3zM5 6h1v1h-1zM11 6h1v1h-1zM3 7h1v1h-1zM5 7h7v1h-7zM3 8h1v1h-1zM5 8h1v1h-1zM11 8h1v1h-1zM3 9h1v1h-1zM5 9h7v1h-7zM3 10h1v1h-1zM5 10h7v1h-7zM1 11h2v1h-2zM4 11h1v1h-1zM5 12h8v1h-8z"/><path id="u91CD" d="M10 1h2v1h-2zM2 2h8v1h-8zM1 3h12v1h-12zM6 4h1v1h-1zM2 5h10v1h-10zM2 6h1v1h-1zM6 6h1v1h-1zM11 6h1v1h-1zM2 7h10v1h-10zM2 8h10v1h-10zM6 9h1v1h-1zM2 10h10v1h-10zM6 11h1v1h-1zM1 12h12v1h-12z"/><path id="u91CF" d="M2 2h9v1h-9zM2 3h9v1h-9zM3 4h7v1h-7zM1 5h12v1h-12zM2 7h10v1h-10zM2 8h10v1h-10zM3 9h8v1h-8zM6 10h1v1h-1zM3 11h8v1h-8zM1 12h12v1h-12z"/><path id="u957F" d="M3 2h1v1h-1zM10 2h1v1h-1zM3 3h1v1h-1zM9 3h1v1h-1zM3 4h1v1h-1zM7 4h2v1h-2zM3 5h1v1h-1zM6 5h1v1h-1zM1 6h12v1h-12zM3 7h1v1h-1zM7 7h1v1h-1zM3 8h1v1h-1zM7 8h1v1h-1zM3 9h1v1h-1zM8 9h1v1h-1zM3 10h1v1h-1zM9 10h1v1h-1zM3 11h1v1h-1zM6 11h2v1h-2zM10 11h2v1h-2zM3 12h3v1h-3zM12 12h1v1h-1z"/><path id="u964D" d="M1 1h4v1h-4zM8 1h1v1h-1zM1 2h1v1h-1zM4 2h1v1h-1zM7 2h5v1h-5zM1 3h1v1h-1zM3 3h1v1h-1zM6 3h2v1h-2zM10 3h1v1h-1zM1 4h1v1h-1zM3 4h1v1h-1zM5 4h1v1h-1zM8 4h2v1h-2zM1 5h1v1h-1zM3 5h1v1h-1zM8 5h1v1h-1zM10 5h1v1h-1zM1 6h1v1h-1zM3 6h1v1h-1zM5 6h3v1h-3zM9 6h1v1h-1zM11 6h2v1h-2zM1 7h1v1h-1zM4 7h1v1h-1zM6 7h7v1h-7zM1 8h1v1h-1zM4 8h1v1h-1zM6 8h1v1h-1zM9 8h1v1h-1zM1 9h1v1h-1zM3 9h1v1h-1zM5 9h1v1h-1zM9 9h1v1h-1zM1 10h1v1h-1zM6 10h7v1h-7zM1 11h1v1h-1zM9 11h1v1h-1zM1 12h1v1h-1zM9 12h1v1h-1z"/><path id="u989D" d="M3 1h1v1h-1zM1 2h12v1h-12zM1 3h1v1h-1zM6 3h1v1h-1zM9 3h1v1h-1zM3 4h3v1h-3zM7 4h6v1h-6zM2 5h1v1h-1zM5 5h1v1h-1zM7 5h1v1h-1zM12 5h1v1h-1zM1 6h4v1h-4zM7 6h1v1h-1zM9 6h1v1h-1zM12 6h1v1h-1zM3 7h2v1h-2zM7 7h1v1h-1zM9 7h1v1h-1zM12 7h1v1h-1zM1 8h2v1h-2zM5 8h3v1h-3zM9 8h1v1h-1zM12 8h1v1h-1zM2 9h4v1h-4zM7 9h1v1h-1zM9 9h1v1h-1zM12 9h1v1h-1zM2 10h1v1h-1zM5 10h1v1h-1zM9 10h1v1h-1zM2 11h1v1h-1zM5 11h1v1h-1zM8 11h1v1h-1zM11 11h1v1h-1zM2 12h4v1h-4zM7 12h1v1h-1zM12 12h1v1h-1z"/><path id="u9A71" d="M1 1h4v1h-4zM4 2h1v1h-1zM6 2h7v1h-7zM1 3h1v1h-1zM4 3h1v1h-1zM6 3h1v1h-1zM1 4h1v1h-1zM4 4h1v1h-1zM6 4h1v1h-1zM8 4h1v1h-1zM11 4h1v1h-1zM1 5h1v1h-1zM4 5h1v1h-1zM6 5h1v1h-1zM9 5h1v1h-1zM11 5h1v1h-1zM1 6h1v1h-1zM4 6h1v1h-1zM6 6h1v1h-1zM10 6h1v1h-1zM1 7h6v1h-6zM10 7h1v1h-1zM5 8h2v1h-2zM9 8h1v1h-1zM11 8h1v1h-1zM3 9h1v1h-1zM5 9h2v1h-2zM8 9h1v1h-1zM12 9h1v1h-1zM1 10h2v1h-2zM4 10h1v1h-1zM6 10h1v1h-1zM8 10h1v1h-1zM12 10h1v1h-1zM4 11h1v1h-1zM6 11h1v1h-1zM3 12h1v1h-1zM6 12h7v1h-7z"/><path id="u9A76" d="M1 1h4v1h-4zM9 1h1v1h-1zM4 2h1v1h-1zM9 2h1v1h-1zM4 3h1v1h-1zM6 3h7v1h-7zM1 4h1v1h-1zM4 4h1v1h-1zM6 4h1v1h-1zM9 4h1v1h-1zM12 4h1v1h-1zM1 5h1v1h-1zM4 5h1v1h-1zM6 5h1v1h-1zM9 5h1v1h-1zM12 5h1v1h-1zM1 6h1v1h-1zM4 6h1v1h-1zM6 6h1v1h-1zM9 6h1v1h-1zM12 6h1v1h-1zM1 7h12v1h-12zM5 8h1v1h-1zM9 8h1v1h-1zM5 9h1v1h-1zM7 9h2v1h-2zM1 10h3v1h-3zM5 10h1v1h-1zM8 10h1v1h-1zM4 11h1v1h-1zM7 11h1v1h-1zM9 11h2v1h-2zM2 12h3v1h-3zM6 12h1v1h-1zM11 12h2v1h-2z"/><path id="u9AD8" d="M6 1h1v1h-1zM1 2h12v1h-12zM3 4h8v1h-8zM3 5h1v1h-1zM10 5h1v1h-1zM3 6h8v1h-8zM1 7h12v1h-12zM1 8h1v1h-1zM12 8h1v1h-1zM1 9h1v1h-1zM4 9h6v1h-6zM12 9h1v1h-1zM1 10h1v1h-1zM4 10h1v1h-1zM9 10h1v1h-1zM12 10h1v1h-1zM1 11h1v1h-1zM4 11h6v1h-6zM12 11h1v1h-1zM1 12h1v1h-1zM11 12h2v1h-2z"/></defs></svg>
<div class="h" style="left:3px;top:5px;width:713px"></div>
<div class="h" style="left:3px;top:29px;width:713px"></div>
<div class="h" style="left:3px;top:53px;width:713px"></div>
<div class="h" style="left:3px;top:76px;width:713px"></div>
<div class="h" style="left:3px;top:100px;width:713px"></div>
<div class="h" style="left:3px;top:123px;width:713px"></div>
<div class="h" style="left:3px;top:147px;width:713px"></div>
<div class="h" style="left:3px;top:171px;width:713px"></div>
<div class="h" style="left:3px;top:194px;width:713px"></div>
<div class="h" style="left:3px;top:218px;width:713px"></div>
<div class="h" style="left:3px;top:241px;width:713px"></div>
<div class="h" style="left:3px;top:265px;width:713px"></div>
<div class="h" style="left:3px;top:289px;width:713px"></div>
<div class="h" style="left:3px;top:312px;width:713px"></div>
<div class="h" style="left:3px;top:336px;width:713px"></div>
<div class="h" style="left:3px;top:360px;width:713px"></div>
<div class="h" style="left:3px;top:383px;width:713px"></div>
<div class="h" style="left:3px;top:407px;width:713px"></div>
<div class="h" style="left:3px;top:430px;width:713px"></div>
<div class="h" style="left:3px;top:454px;width:713px"></div>
<div class="h" style="left:3px;top:477px;width:713px"></div>
<div class="v" style="left:3px;top:5px;height:473px"></div>
<div class="v" style="left:265px;top:5px;height:473px"></div>
<div class="v" style="left:715px;top:5px;height:473px"></div>
<div class="v" style="left:355px;top:5px;height:285px"></div>
<div class="v" style="left:445px;top:5px;height:285px"></div>
<div class="v" style="left:535px;top:5px;height:285px"></div>
<div class="v" style="left:625px;top:5px;height:285px"></div>
<div class="row" style="top:5px">
<span id="s0_0" class="c" style="left:11px"><span class="cj" role="img" aria-label="型"><svg class="g" width="13" height="15" viewBox="0 0 13 15" shape-rendering="crispEdges"><use href="#u578B"/></svg></span></span>
<span id="s0_1" class="c" style="left:51px"><span class="cj" role="img" aria-label="号"><svg class="g" width="13" height="15" viewBox="0 0 13 15" shape-rendering="crispEdges"><use href="#u53F7"/></svg></span></span>
<span id="s0_2" class="t b" style="transform:translateX(67.32px) scaleX(0.9286);letter-spacing:-0.201px">Model</span>
<span id="s0_3" class="t" style="transform:translateX(272.70px) scaleX(0.9286)">CBD10-P</span>
<span id="s0_4" class="t" style="transform:translateX(362.70px) scaleX(0.9286)">CBD15-P</span>
<span id="s0_5" class="t" style="transform:translateX(452.70px) scaleX(0.9286)">CBD20-P</span>
<span id="s0_6" class="t" style="transform:translateX(542.70px) scaleX(0.9286)">CBD25-P</span>
<span id="s0_7" class="t" style="transform:translateX(632.70px) scaleX(0.9286)">CBD30-P</span>
</div>
<div class="row" style="top:28px">
<span id="s1_0" class="c" style="left:11px"><span class="cj" role="img" aria-label="额定载重"><svg class="g" width="13" height="15" viewBox="0 0 13 15" shape-rendering="crispEdges"><use href="#u989D"/></svg><svg class="g" width="13" height="15" viewBox="0 0 13 15" shape-rendering="crispEdges"><use href="#u5B9A"/></svg><svg class="g" width="13" height="15" viewBox="0 0 13 15" shape-rendering="crispEdges"><use href="#u8F7D"/></svg><svg class="g" width="13" height="15" viewBox="0 0 13 15" shape-rendering="crispEdges"><use href="#u91CD"/></svg></span></span>
<span id="s1_1" class="t b" style="transform:translateX(70.32px) scaleX(0.9286);letter-spacing:-0.063px">Load Capacity</span>
<span id="s1_2" class="t b" style="transform:translateX(194.41px) scaleX(0.9286);letter-spacing:-0.238px">(kg)</span>
<span id="s1_3" class="t" style="transform:translateX(272.70px) scaleX(0.9286)">1000</span>
<span id="s1_4" class="t" style="transform:translateX(362.70px) scaleX(0.9286)">1500</span>
<span id="s1_5" class="t" style="transform:translateX(452.70px) scaleX(0.9286)">2000</span>
<span id="s1_6" class="t" style="transform:translateX(542.70px) scaleX(0.9286)">2500</span>
<span id="s1_7" class="t" style="transform:translateX(632.70px) scaleX(0.9286)">3000</span>
</div>
<div class="row" style="top:52px">
<span id="s2_0" class="c" style="left:11px"><span class="cj" role="img" aria-label="起升高度"><svg class="g" width="13" height="15" viewBox="0 0 13 15" shape-rendering="crispEdges"><use href="#u8D77"/></svg><svg class="g" width="13" height="15" viewBox="0 0 13 15" shape-rendering="crispEdges"><use href="#u5347"/></svg><svg class="g" width="13" height="15" viewBox="0 0 13 15" shape-rendering="crispEdges"><use href="#u9AD8"/></svg><svg class="g" width="13" height="15" viewBox="0 0 13 15" shape-rendering="crispEdges"><use href="#u5EA6"/></svg></span></span>
<span id="s2_1" class="t b" style="transform:translateX(67.32px) scaleX(0.9286);letter-spacing:0.096px">Maximum Lift height (mm)</span>
<span id="s2_2" class="t" style="transform:translateX(272.70px) scaleX(0.9286)">115</span>
<span id="s2_3" class="t" style="transform:translateX(362.70px) scaleX(0.9286)">115</span>
<span id="s2_4" class="t" style="transform:translateX(452.70px) scaleX(0.9286)">115</span>
<span id="s2_5" class="t" style="transform:translateX(542.70px) scaleX(0.9286)">115</span>
<span id="s2_6" class="t" style="transform:translateX(632.70px) scaleX(0.9286)">115</span>
</div>
<div class="row" style="top:76px">
<span id="s3_0" class="c" style="left:11px"><span class="cj" role="img" aria-label="蓄"><svg class="g" width="13" height="15" viewBox="0 0 13 15" shape-rendering="crispEdges"><use href="#u84C4"/></svg></span></span>
<span id="s3_1" class="c" style="left:27px"><span class="cj" role="img" aria-label="电"><svg class="g" width="13" height="15" viewBox="0 0 13 15" shape-rendering="crispEdges"><use href="#u7535"/></svg></span></span>
<span id="s3_2" class="c" style="left:44px"><span class="cj" role="img" aria-label="池"><svg class="g" width="13" height="15" viewBox="0 0 13 15" shape-rendering="crispEdges"><use href="#u6C60"/></svg></span></span>
<span id="s3_3" class="t b" style="transform:translateX(62.36px) scaleX(0.9286);letter-spacing:-0.261px">Battery</span>
<span id="s3_4" class="t b" style="transform:translateX(186.41px) scaleX(0.9286);letter-spacing:-0.145px">(V/Ah)</span>
<span id="s3_5" class="t" style="transform:translateX(272.70px) scaleX(0.9286)">24/165</span>
<span id="s3_6" class="t" style="transform:translateX(362.70px) scaleX(0.9286)">24/165</span>
<span id="s3_7" class="t" style="transform:translateX(452.70px) scaleX(0.9286)">24/180</span>
<span id="s3_8" class="t" style="transform:translateX(542.70px) scaleX(0.9286)">24/210</span>
<span id="s3_9" class="t" style="transform:translateX(632.70px) scaleX(0.9286)">24/210</span>
</div>
<div class="row" style="top:99px">
<span id="s4_0" class="c" style="left:11px"><span class="cj" role="img" aria-label="充"><svg class="g" width="13" height="15" viewBox="0 0 13 15" shape-rendering="crispEdges"><use href="#u5145"/></svg></span></span>
<span id="s4_1" class="c" style="left:30px"><span class="cj" role="img" aria-label="电"><svg class="g" width="13" height="15" viewBox="0 0 13 15" shape-rendering="crispEdges"><use href="#u7535"/></svg></span></span>
<span id="s4_2" class="c" style="left:51px"><span class="cj" role="img" aria-label="器"><svg class="g" width="13" height="15" viewBox="0 0 13 15" shape-rendering="crispEdges"><use href="#u5668"/></svg></span></span>
<span id="s4_3" class="t b" style="transform:translateX(67.34px) scaleX(0.9286);letter-spacing:-0.141px">Charger</span>
<span id="s4_4" class="t b" style="transform:translateX(188.41px) scaleX(0.9286);letter-spacing:-0.212px">(V/A)</span>
<span id="s4_5" class="t" style="transform:translateX(272.70px) scaleX(0.9286)">24/20</span>
<span id="s4_6" class="t" style="transform:translateX(362.70px) scaleX(0.9286)">24/20</span>
<span id="s4_7" class="t" style="transform:translateX(452.70px) scaleX(0.9286)">24/25</span>
<span id="s4_8" class="t" style="transform:translateX(542.70px) scaleX(0.9286)">24/30</span>
<span id="s4_9" class="t" style="transform:translateX(632.70px) scaleX(0.9286)">24/30</span>
</div>
<div class="row" style="top:123px">
<span id="s5_0" class="c" style="left:11px"><span class="cj" role="img" aria-label="提升泵站"><svg class="g" width="13" height="15" viewBox="0 0 13 15" shape-rendering="crispEdges"><use href="#u63D0"/></svg><svg class="g" width="13" height="15" viewBox="0 0 13 15" shape-rendering="crispEdges"><use href="#u5347"/></svg><svg class="g" width="13" height="15" viewBox="0 0 13 15" shape-rendering="crispEdges"><use href="#u6CF5"/></svg><svg class="g" width="13" height="15" viewBox="0 0 13 15" shape-rendering="crispEdges"><use href="#u7AD9"/></svg></span></span>
<span id="s5_1" class="t b" style="transform:translateX(67.32px) scaleX(0.9286);letter-spacing:0.000px">Lifting motor</span>
<span id="s5_2" class="t b" style="transform:translateX(188.41px) scaleX(0.9286);letter-spacing:-0.149px">(Kw)</span>
<span id="s5_3" class="t r" style="transform:translateX(272.70px) scaleX(0.9286)">/</span>
<span id="s5_4" class="t r" style="transform:translateX(362.70px) scaleX(0.9286)">/</span>
<span id="s5_5" class="t r" style="transform:translateX(452.70px) scaleX(0.9286)">/</span>
<span id="s5_6" class="t r" style="transform:translateX(542.70px) scaleX(0.9286)">/</span>
<span id="s5_7" class="t r" style="transform:translateX(632.70px) scaleX(0.9286)">/</span>
</div>
<div class="row" style="top:146px">
<span id="s6_0" class="c" style="left:11px"><span class="cj" role="img" aria-label="驱动电机"><svg class="g" width="13" height="15" viewBox="0 0 13 15" shape-rendering="crispEdges"><use href="#u9A71"/></svg><svg class="g" width="13" height="15" viewBox="0 0 13 15" shape-rendering="crispEdges"><use href="#u52A8"/></svg><svg class="g" width="13" height="15" viewBox="0 0 13 15" shape-rendering="crispEdges"><use href="#u7535"/></svg><svg class="g" width="13" height="15" viewBox="0 0 13 15" shape-rendering="crispEdges"><use href="#u673A"/></svg></span></span>
<span id="s6_1" class="t b" style="transform:translateX(67.32px) scaleX(0.9286);letter-spacing:-0.013px">Driving motor</span>
<span id="s6_2" class="t b" style="transform:translateX(186.87px) scaleX(0.9286);letter-spacing:-0.266px">(Kw)</span>
<span id="s6_3" class="t" style="transform:translateX(272.70px) scaleX(0.9286)">AC1.5</span>
<span id="s6_4" class="t" style="transform:translateX(362.70px) scaleX(0.9286)">AC1.5</span>
<span id="s6_5" class="t" style="transform:translateX(452.70px) scaleX(0.9286)">AC1.5</span>
<span id="s6_6" class="t" style="transform:translateX(542.70px) scaleX(0.9286)">AC1.5</span>
<span id="s6_7" class="t" style="transform:translateX(632.70px) scaleX(0.9286)">AC1.5</span>
</div>
<div class="row" style="top:170px">
<span id="s7_0" class="c" style="left:11px"><span class="cj" role="img" aria-label="平板长度"><svg class="g" width="13" height="15" viewBox="0 0 13 15" shape-rendering="crispEdges"><use href="#u5E73"/></svg><svg class="g" width="13" height="15" viewBox="0 0 13 15" shape-rendering="crispEdges"><use href="#u677F"/></svg><svg class="g" width="13" height="15" viewBox="0 0 13 15" shape-rendering="crispEdges"><use href="#u957F"/></svg><svg class="g" width="13" height="15" viewBox="0 0 13 15" shape-rendering="crispEdges"><use href="#u5EA6"/></svg></span></span>
<span id="s7_1" class="t b" style="transform:translateX(67.34px) scaleX(0.9286);letter-spacing:-0.168px">Platfrom</span>
<span id="s7_2" class="t b" style="transform:translateX(124.36px) scaleX(0.9286);letter-spacing:0.039px">Leight</span>
<span id="s7_3" class="t b" style="transform:translateX(186.98px) scaleX(0.9286);letter-spacing:0.028px">(mm)</span>
<span id="s7_4" class="t" style="transform:translateX(272.70px) scaleX(0.9286)">3300</span>
<span id="s7_5" class="t" style="transform:translateX(362.70px) scaleX(0.9286)">3300</span>
<span id="s7_6" class="t" style="transform:translateX(452.70px) scaleX(0.9286)">2500</span>
<span id="s7_7" class="t" style="transform:translateX(542.70px) scaleX(0.9286)">1800</span>
<span id="s7_8" class="t" style="transform:translateX(632.70px) scaleX(0.9286)">1500</span>
<svg class="sq" style="left:67px;top:18px" width="55" height="3" viewBox="0 0 55 3" shape-rendering="crispEdges"><path d="M0 0h1v1h-1zM1 1h1v1h-1zM2 2h1v1h-1zM3 1h1v1h-1zM4 0h1v1h-1zM5 1h1v1h-1zM6 2h1v1h-1zM7 1h1v1h-1zM8 0h1v1h-1zM9 1h1v1h-1zM10 2h1v1h-1zM11 1h1v1h-1zM12 0h1v1h-1zM13 1h1v1h-1zM14 2h1v1h-1zM15 1h1v1h-1zM16 0h1v1h-1zM17 1h1v1h-1zM18 2h1v1h-1zM19 1h1v1h-1zM20 0h1v1h-1zM21 1h1v1h-1zM22 2h1v1h-1zM23 1h1v1h-1zM24 0h1v1h-1zM25 1h1v1h-1zM26 2h1v1h-1zM27 1h1v1h-1zM28 0h1v1h-1zM29 1h1v1h-1zM30 2h1v1h-1zM31 1h1v1h-1zM32 0h1v1h-1zM33 1h1v1h-1zM34 2h1v1h-1zM35 1h1v1h-1zM36 0h1v1h-1zM37 1h1v1h-1zM38 2h1v1h-1zM39 1h1v1h-1zM40 0h1v1h-1zM41 1h1v1h-1zM42 2h1v1h-1zM43 1h1v1h-1zM44 0h1v1h-1zM45 1h1v1h-1zM46 2h1v1h-1zM47 1h1v1h-1zM48 0h1v1h-1zM49 1h1v1h-1zM50 2h1v1h-1zM51 1h1v1h-1zM52 0h1v1h-1zM53 1h1v1h-1zM54 2h1v1h-1z"/></svg>
<svg class="sq" style="left:124px;top:18px" width="41" height="3" viewBox="0 0 41 3" shape-rendering="crispEdges"><path d="M0 0h1v1h-1zM1 1h1v1h-1zM2 2h1v1h-1zM3 1h1v1h-1zM4 0h1v1h-1zM5 1h1v1h-1zM6 2h1v1h-1zM7 1h1v1h-1zM8 0h1v1h-1zM9 1h1v1h-1zM10 2h1v1h-1zM11 1h1v1h-1zM12 0h1v1h-1zM13 1h1v1h-1zM14 2h1v1h-1zM15 1h1v1h-1zM16 0h1v1h-1zM17 1h1v1h-1zM18 2h1v1h-1zM19 1h1v1h-1zM20 0h1v1h-1zM21 1h1v1h-1zM22 2h1v1h-1zM23 1h1v1h-1zM24 0h1v1h-1zM25 1h1v1h-1zM26 2h1v1h-1zM27 1h1v1h-1zM28 0h1v1h-1zM29 1h1v1h-1zM30 2h1v1h-1zM31 1h1v1h-1zM32 0h1v1h-1zM33 1h1v1h-1zM34 2h1v1h-1zM35 1h1v1h-1zM36 0h1v1h-1zM37 1h1v1h-1zM38 2h1v1h-1zM39 1h1v1h-1zM40 0h1v1h-1z"/></svg>
</div>
<div class="row" style="top:194px">
<span id="s8_0" class="c" style="left:11px"><span class="cj" role="img" aria-label="货叉外宽"><svg class="g" width="13" height="15" viewBox="0 0 13 15" shape-rendering="crispEdges"><use href="#u8D27"/></svg><svg class="g" width="13" height="15" viewBox="0 0 13 15" shape-rendering="crispEdges"><use href="#u53C9"/></svg><svg class="g" width="13" height="15" viewBox="0 0 13 15" shape-rendering="crispEdges"><use href="#u5916"/></svg><svg class="g" width="13" height="15" viewBox="0 0 13 15" shape-rendering="crispEdges"><use href="#u5BBD"/></svg></span></span>
<span id="s8_1" class="t b" style="transform:translateX(67.34px) scaleX(0.9286);letter-spacing:-0.063px">Platfrom</span>
<span id="s8_2" class="t b" style="transform:translateX(122.81px) scaleX(0.9286);letter-spacing:0.233px">width</span>
<span id="s8_3" class="t b" style="transform:translateX(192.46px) scaleX(0.9286);letter-spacing:-0.195px">(mm)</span>
<span id="s8_4" class="t" style="transform:translateX(272.70px) scaleX(0.9286)">1100</span>
<span id="s8_5" class="t" style="transform:translateX(362.70px) scaleX(0.9286)">1100</span>
<span id="s8_6" class="t" style="transform:translateX(452.70px) scaleX(0.9286)">900</span>
<span id="s8_7" class="t" style="transform:translateX(542.70px) scaleX(0.9286)">685</span>
<span id="s8_8" class="t" style="transform:translateX(632.70px) scaleX(0.9286)">550</span>
<svg class="sq" style="left:67px;top:18px" width="55" height="3" viewBox="0 0 55 3" shape-rendering="crispEdges"><path d="M0 0h1v1h-1zM1 1h1v1h-1zM2 2h1v1h-1zM3 1h1v1h-1zM4 0h1v1h-1zM5 1h1v1h-1zM6 2h1v1h-1zM7 1h1v1h-1zM8 0h1v1h-1zM9 1h1v1h-1zM10 2h1v1h-1zM11 1h1v1h-1zM12 0h1v1h-1zM13 1h1v1h-1zM14 2h1v1h-1zM15 1h1v1h-1zM16 0h1v1h-1zM17 1h1v1h-1zM18 2h1v1h-1zM19 1h1v1h-1zM20 0h1v1h-1zM21 1h1v1h-1zM22 2h1v1h-1zM23 1h1v1h-1zM24 0h1v1h-1zM25 1h1v1h-1zM26 2h1v1h-1zM27 1h1v1h-1zM28 0h1v1h-1zM29 1h1v1h-1zM30 2h1v1h-1zM31 1h1v1h-1zM32 0h1v1h-1zM33 1h1v1h-1zM34 2h1v1h-1zM35 1h1v1h-1zM36 0h1v1h-1zM37 1h1v1h-1zM38 2h1v1h-1zM39 1h1v1h-1zM40 0h1v1h-1zM41 1h1v1h-1zM42 2h1v1h-1zM43 1h1v1h-1zM44 0h1v1h-1zM45 1h1v1h-1zM46 2h1v1h-1zM47 1h1v1h-1zM48 0h1v1h-1zM49 1h1v1h-1zM50 2h1v1h-1zM51 1h1v1h-1zM52 0h1v1h-1zM53 1h1v1h-1zM54 2h1v1h-1z"/></svg>
</div>
<div class="row" style="top:217px">
<span id="s9_0" class="c" style="left:11px"><span class="cj" role="img" aria-label="车身重量"><svg class="g" width="13" height="15" viewBox="0 0 13 15" shape-rendering="crispEdges"><use href="#u8F66"/></svg><svg class="g" width="13" height="15" viewBox="0 0 13 15" shape-rendering="crispEdges"><use href="#u8EAB"/></svg><svg class="g" width="13" height="15" viewBox="0 0 13 15" shape-rendering="crispEdges"><use href="#u91CD"/></svg><svg class="g" width="13" height="15" viewBox="0 0 13 15" shape-rendering="crispEdges"><use href="#u91CF"/></svg></span></span>
<span id="s9_1" class="t b" style="transform:translateX(67.38px) scaleX(0.9286);letter-spacing:-0.102px">Weight</span>
<span id="s9_2" class="t b" style="transform:translateX(170.41px) scaleX(0.9286);letter-spacing:-0.529px">(Kg)</span>
<span id="s9_3" class="t" style="transform:translateX(272.70px) scaleX(0.9286)">576</span>
<span id="s9_4" class="t" style="transform:translateX(362.70px) scaleX(0.9286)">587</span>
<span id="s9_5" class="t" style="transform:translateX(452.70px) scaleX(0.9286)">598</span>
<span id="s9_6" class="t" style="transform:translateX(542.70px) scaleX(0.9286)">609</span>
<span id="s9_7" class="t" style="transform:translateX(632.70px) scaleX(0.9286)">626</span>
</div>
<div class="row" style="top:241px">
<span id="s10_0" class="c" style="left:11px"><span class="cj" role="img" aria-label="外形尺寸"><svg class="g" width="13" height="15" viewBox="0 0 13 15" shape-rendering="crispEdges"><use href="#u5916"/></svg><svg class="g" width="13" height="15" viewBox="0 0 13 15" shape-rendering="crispEdges"><use href="#u5F62"/></svg><svg class="g" width="13" height="15" viewBox="0 0 13 15" shape-rendering="crispEdges"><use href="#u5C3A"/></svg><svg class="g" width="13" height="15" viewBox="0 0 13 15" shape-rendering="crispEdges"><use href="#u5BF8"/></svg></span></span>
<span id="s10_1" class="t b" style="transform:translateX(67.34px) scaleX(0.9286);letter-spacing:-0.144px">Overall size</span>
<span id="s10_2" class="t b" style="transform:translateX(144.52px) scaleX(0.9286);letter-spacing:-0.028px">(mm)L*W*H</span>
<span id="s10_3" class="t s" style="transform:translateX(273.46px) scaleX(0.9286);letter-spacing:0.050px">4200*1100*1350</span>
<span id="s10_4" class="t s" style="transform:translateX(363.46px) scaleX(0.9286);letter-spacing:0.050px">4200*1100*1350</span>
<span id="s10_5" class="t s" style="transform:translateX(453.46px) scaleX(0.9286)">4200*900*1350</span>
<span id="s10_6" class="t s" style="transform:translateX(543.07px) scaleX(0.9286);letter-spacing:0.033px">2700*800*1350</span>
<span id="s10_7" class="t s" style="transform:translateX(633.41px) scaleX(0.9286);letter-spacing:0.002px">2400*800*1350</span>
</div>
<div class="row" style="top:264px">
<span id="s11_0" class="c" style="left:11px"><span class="cj" role="img" aria-label="通道要求"><svg class="g" width="13" height="15" viewBox="0 0 13 15" shape-rendering="crispEdges"><use href="#u901A"/></svg><svg class="g" width="13" height="15" viewBox="0 0 13 15" shape-rendering="crispEdges"><use href="#u9053"/></svg><svg class="g" width="13" height="15" viewBox="0 0 13 15" shape-rendering="crispEdges"><use href="#u8981"/></svg><svg class="g" width="13" height="15" viewBox="0 0 13 15" shape-rendering="crispEdges"><use href="#u6C42"/></svg></span></span>
<span id="s11_1" class="t b" style="transform:translateX(70.52px) scaleX(0.9286);letter-spacing:-0.860px">Chan</span>
<span id="s11_2" class="t b" style="transform:translateX(103.02px) scaleX(0.9286);letter-spacing:-0.153px">nel</span>
<span id="s11_3" class="t b" style="transform:translateX(126.98px) scaleX(0.9286);letter-spacing:-0.191px">request</span>
<span id="s11_4" class="t b" style="transform:translateX(186.87px) scaleX(0.9286);letter-spacing:0.038px">(mm)</span>
<span id="s11_5" class="t r" style="transform:translateX(272.56px) scaleX(0.9286);letter-spacing:0.156px">4700</span>
<span id="s11_6" class="c r" style="left:306px"><span class="cj" role="img" aria-label="转弯"><svg class="g" width="13" height="15" viewBox="0 0 13 15" shape-rendering="crispEdges"><use href="#u8F6C"/></svg><svg class="g" width="13" height="15" viewBox="0 0 13 15" shape-rendering="crispEdges"><use href="#u5F2F"/></svg></span></span>
<span id="s11_7" class="t r" style="transform:translateX(362.56px) scaleX(0.9286);letter-spacing:0.156px">4700</span>
<span id="s11_8" class="c r" style="left:396px"><span class="cj" role="img" aria-label="转弯"><svg class="g" width="13" height="15" viewBox="0 0 13 15" shape-rendering="crispEdges"><use href="#u8F6C"/></svg><svg class="g" width="13" height="15" viewBox="0 0 13 15" shape-rendering="crispEdges"><use href="#u5F2F"/></svg></span></span>
<span id="s11_9" class="t r" style="transform:translateX(452.56px) scaleX(0.9286);letter-spacing:0.156px">4700</span>
<span id="s11_10" class="c r" style="left:486px"><span class="cj" role="img" aria-label="转弯"><svg class="g" width="13" height="15" viewBox="0 0 13 15" shape-rendering="crispEdges"><use href="#u8F6C"/></svg><svg class="g" width="13" height="15" viewBox="0 0 13 15" shape-rendering="crispEdges"><use href="#u5F2F"/></svg></span></span>
<span id="s11_11" class="t r" style="transform:translateX(542.46px) scaleX(0.9286);top:1px;letter-spacing:0.273px">3500<b>Turn</b></span>
<span id="s11_12" class="t r" style="transform:translateX(632.62px) scaleX(0.9286);letter-spacing:0.127px">2900</span>
<span id="s11_13" class="c r" style="left:666px"><span class="cj" role="img" aria-label="转弯"><svg class="g" width="13" height="15" viewBox="0 0 13 15" shape-rendering="crispEdges"><use href="#u8F6C"/></svg><svg class="g" width="13" height="15" viewBox="0 0 13 15" shape-rendering="crispEdges"><use href="#u5F2F"/></svg></span></span>
</div>
<div class="row" style="top:288px">
<span id="s12_0" class="c" style="left:11px"><span class="cj" role="img" aria-label="驱动轮"><svg class="g" width="13" height="15" viewBox="0 0 13 15" shape-rendering="crispEdges"><use href="#u9A71"/></svg><svg class="g" width="13" height="15" viewBox="0 0 13 15" shape-rendering="crispEdges"><use href="#u52A8"/></svg><svg class="g" width="13" height="15" viewBox="0 0 13 15" shape-rendering="crispEdges"><use href="#u8F6E"/></svg></span></span>
<span id="s12_1" class="t b" style="transform:translateX(57.36px) scaleX(0.9286);letter-spacing:0.082px">Driving wheel</span>
<span id="s12_2" class="t b" style="transform:translateX(176.27px) scaleX(0.9286);letter-spacing:0.044px">(mm)</span>
<span id="s12_3" class="t" style="transform:translateX(273.59px) scaleX(0.9286);letter-spacing:-0.148px">1*<span class="ct">c<i></i></span>2<span class="r">3</span>0*80</span>
</div>
<div class="row" style="top:312px">
<span id="s13_0" class="c" style="left:11px"><span class="cj" role="img" aria-label="辅助轮"><svg class="g" width="13" height="15" viewBox="0 0 13 15" shape-rendering="crispEdges"><use href="#u8F85"/></svg><svg class="g" width="13" height="15" viewBox="0 0 13 15" shape-rendering="crispEdges"><use href="#u52A9"/></svg><svg class="g" width="13" height="15" viewBox="0 0 13 15" shape-rendering="crispEdges"><use href="#u8F6E"/></svg></span></span>
<span id="s13_1" class="t b" style="transform:translateX(54.68px) scaleX(0.9286);letter-spacing:0.106px">Training wheels (mm)</span>
<span id="s13_2" class="t" style="transform:translateX(273.02px) scaleX(0.9286);letter-spacing:0.043px">2*<span class="ct">c<i></i></span>125*50</span>
</div>
<div class="row" style="top:335px">
<span id="s14_0" class="c" style="left:11px"><span class="cj" role="img" aria-label="前轮"><svg class="g" width="13" height="15" viewBox="0 0 13 15" shape-rendering="crispEdges"><use href="#u524D"/></svg><svg class="g" width="13" height="15" viewBox="0 0 13 15" shape-rendering="crispEdges"><use href="#u8F6E"/></svg></span></span>
<span id="s14_1" class="t b" style="transform:translateX(41.18px) scaleX(0.9286);letter-spacing:-0.058px">Front wheels</span>
<span id="s14_2" class="t b" style="transform:translateX(168.27px) scaleX(0.9286);letter-spacing:0.098px">(mm)</span>
<span id="s14_3" class="t r" style="transform:translateX(273.02px) scaleX(0.9286);letter-spacing:-0.011px">2*<span class="ct">c<i></i></span>230*70</span>
</div>
<div class="row" style="top:359px">
<span id="s15_0" class="c" style="left:11px"><span class="cj" role="img" aria-label="爬"><svg class="g" width="13" height="15" viewBox="0 0 13 15" shape-rendering="crispEdges"><use href="#u722C"/></svg></span></span>
<span id="s15_1" class="c" style="left:31px"><span class="cj" role="img" aria-label="坡"><svg class="g" width="13" height="15" viewBox="0 0 13 15" shape-rendering="crispEdges"><use href="#u5761"/></svg></span></span>
<span id="s15_2" class="c" style="left:51px"><span class="cj" role="img" aria-label="度"><svg class="g" width="13" height="15" viewBox="0 0 13 15" shape-rendering="crispEdges"><use href="#u5EA6"/></svg></span></span>
<span id="s15_3" class="t b" style="transform:translateX(70.17px) scaleX(0.9286);letter-spacing:0.126px">Climbing</span>
<span id="s15_4" class="t b" style="transform:translateX(130.55px) scaleX(0.9286);letter-spacing:-0.164px">slope</span>
<span id="s15_5" class="t b" style="transform:translateX(169.16px) scaleX(0.9286)">(</span>
<span id="s15_6" class="t b" style="transform:translateX(174.67px) scaleX(0.8000)">%</span>
<span id="s15_7" class="t b" style="transform:translateX(185.91px) scaleX(0.9286)">)</span>
<span id="s15_8" class="t" style="transform:translateX(272.56px) scaleX(0.9286);letter-spacing:0.363px">4/6</span>
</div>
<div class="row" style="top:383px">
<span id="s16_0" class="c" style="left:11px"><span class="cj" role="img" aria-label="行驶速度"><svg class="g" width="13" height="15" viewBox="0 0 13 15" shape-rendering="crispEdges"><use href="#u884C"/></svg><svg class="g" width="13" height="15" viewBox="0 0 13 15" shape-rendering="crispEdges"><use href="#u9A76"/></svg><svg class="g" width="13" height="15" viewBox="0 0 13 15" shape-rendering="crispEdges"><use href="#u901F"/></svg><svg class="g" width="13" height="15" viewBox="0 0 13 15" shape-rendering="crispEdges"><use href="#u5EA6"/></svg></span></span>
<span id="s16_1" class="t" style="transform:translateX(64.29px) scaleX(0.9286)">(</span>
<span id="s16_2" class="c" style="left:68px"><span class="cj" role="img" aria-label="满载"><svg class="g" width="13" height="15" viewBox="0 0 13 15" shape-rendering="crispEdges"><use href="#u6EE1"/></svg><svg class="g" width="13" height="15" viewBox="0 0 13 15" shape-rendering="crispEdges"><use href="#u8F7D"/></svg></span></span>
<span id="s16_3" class="t" style="transform:translateX(94.55px) scaleX(0.9286)">/</span>
<span id="s16_4" class="c" style="left:97px"><span class="cj" role="img" aria-label="空载"><svg class="g" width="13" height="15" viewBox="0 0 13 15" shape-rendering="crispEdges"><use href="#u7A7A"/></svg><svg class="g" width="13" height="15" viewBox="0 0 13 15" shape-rendering="crispEdges"><use href="#u8F7D"/></svg></span></span>
<span id="s16_5" class="t" style="transform:translateX(124.39px) scaleX(0.9286)">)</span>
<span id="s16_6" class="t" style="transform:translateX(127.56px) scaleX(0.9286);letter-spacing:0.168px">Travel</span>
<span id="s16_7" class="t" style="transform:translateX(169.56px) scaleX(0.9286);letter-spacing:-0.082px">speed</span>
<span id="s16_8" class="t b" style="transform:translateX(218.36px) scaleX(0.9286);letter-spacing:-0.252px">Km/h</span>
<span id="s16_9" class="t" style="transform:translateX(276.94px) scaleX(0.9286);letter-spacing:0.032px">4/6</span>
</div>
<div class="row" style="top:406px">
<span id="s17_0" class="c" style="left:11px"><span class="cj" role="img" aria-label="提升速度"><svg class="g" width="13" height="15" viewBox="0 0 13 15" shape-rendering="crispEdges"><use href="#u63D0"/></svg><svg class="g" width="13" height="15" viewBox="0 0 13 15" shape-rendering="crispEdges"><use href="#u5347"/></svg><svg class="g" width="13" height="15" viewBox="0 0 13 15" shape-rendering="crispEdges"><use href="#u901F"/></svg><svg class="g" width="13" height="15" viewBox="0 0 13 15" shape-rendering="crispEdges"><use href="#u5EA6"/></svg></span></span>
<span id="s17_1" class="t" style="transform:translateX(64.29px) scaleX(0.9286)">(</span>
<span id="s17_2" class="c" style="left:68px"><span class="cj" role="img" aria-label="满载"><svg class="g" width="13" height="15" viewBox="0 0 13 15" shape-rendering="crispEdges"><use href="#u6EE1"/></svg><svg class="g" width="13" height="15" viewBox="0 0 13 15" shape-rendering="crispEdges"><use href="#u8F7D"/></svg></span></span>
<span id="s17_3" class="t" style="transform:translateX(94.55px) scaleX(0.9286)">/</span>
<span id="s17_4" class="c" style="left:97px"><span class="cj" role="img" aria-label="空载"><svg class="g" width="13" height="15" viewBox="0 0 13 15" shape-rendering="crispEdges"><use href="#u7A7A"/></svg><svg class="g" width="13" height="15" viewBox="0 0 13 15" shape-rendering="crispEdges"><use href="#u8F7D"/></svg></span></span>
<span id="s17_5" class="t" style="transform:translateX(124.39px) scaleX(0.9286)">)</span>
<span id="s17_6" class="t" style="transform:translateX(132.75px) scaleX(0.9286);letter-spacing:0.147px">Lifting</span>
<span id="s17_7" class="t" style="transform:translateX(172.46px) scaleX(0.9286);letter-spacing:-0.067px">speed</span>
<span id="s17_8" class="t b" style="transform:translateX(210.75px) scaleX(0.9286);letter-spacing:0.360px">mm/s</span>
<span id="s17_9" class="t" style="transform:translateX(279.19px) scaleX(0.9286);letter-spacing:-0.330px">45/50</span>
</div>
<div class="row" style="top:430px">
<span id="s18_0" class="c" style="left:11px"><span class="cj" role="img" aria-label="下降速度"><svg class="g" width="13" height="15" viewBox="0 0 13 15" shape-rendering="crispEdges"><use href="#u4E0B"/></svg><svg class="g" width="13" height="15" viewBox="0 0 13 15" shape-rendering="crispEdges"><use href="#u964D"/></svg><svg class="g" width="13" height="15" viewBox="0 0 13 15" shape-rendering="crispEdges"><use href="#u901F"/></svg><svg class="g" width="13" height="15" viewBox="0 0 13 15" shape-rendering="crispEdges"><use href="#u5EA6"/></svg></span></span>
<span id="s18_1" class="t" style="transform:translateX(64.29px) scaleX(0.9286)">(</span>
<span id="s18_2" class="c" style="left:68px"><span class="cj" role="img" aria-label="满载"><svg class="g" width="13" height="15" viewBox="0 0 13 15" shape-rendering="crispEdges"><use href="#u6EE1"/></svg><svg class="g" width="13" height="15" viewBox="0 0 13 15" shape-rendering="crispEdges"><use href="#u8F7D"/></svg></span></span>
<span id="s18_3" class="t" style="transform:translateX(94.55px) scaleX(0.9286)">/</span>
<span id="s18_4" class="c" style="left:97px"><span class="cj" role="img" aria-label="空载"><svg class="g" width="13" height="15" viewBox="0 0 13 15" shape-rendering="crispEdges"><use href="#u7A7A"/></svg><svg class="g" width="13" height="15" viewBox="0 0 13 15" shape-rendering="crispEdges"><use href="#u8F7D"/></svg></span></span>
<span id="s18_5" class="t" style="transform:translateX(124.39px) scaleX(0.9286)">)</span>
<span id="s18_6" class="t" style="transform:translateX(128.01px) scaleX(0.9286);letter-spacing:0.057px">Falling</span>
<span id="s18_7" class="t" style="transform:translateX(172.46px) scaleX(0.9286);letter-spacing:-0.067px">speed</span>
<span id="s18_8" class="t b" style="transform:translateX(210.75px) scaleX(0.9286);letter-spacing:0.360px">mm/s</span>
<span id="s18_9" class="t" style="transform:translateX(279.19px) scaleX(0.9286);letter-spacing:-0.330px">45/40</span>
</div>
<div class="row" style="top:453px">
<span id="s19_0" class="c" style="left:11px"><span class="cj" role="img" aria-label="制动方式"><svg class="g" width="13" height="15" viewBox="0 0 13 15" shape-rendering="crispEdges"><use href="#u5236"/></svg><svg class="g" width="13" height="15" viewBox="0 0 13 15" shape-rendering="crispEdges"><use href="#u52A8"/></svg><svg class="g" width="13" height="15" viewBox="0 0 13 15" shape-rendering="crispEdges"><use href="#u65B9"/></svg><svg class="g" width="13" height="15" viewBox="0 0 13 15" shape-rendering="crispEdges"><use href="#u5F0F"/></svg></span></span>
<span id="s19_1" class="t b" style="transform:translateX(67.34px) scaleX(0.9286);letter-spacing:-0.029px">Braking type</span>
<span id="s19_2" class="c" style="left:273px"><span class="cj" role="img" aria-label="电磁制动"><svg class="g" width="13" height="15" viewBox="0 0 13 15" shape-rendering="crispEdges"><use href="#u7535"/></svg><svg class="g" width="13" height="15" viewBox="0 0 13 15" shape-rendering="crispEdges"><use href="#u78C1"/></svg><svg class="g" width="13" height="15" viewBox="0 0 13 15" shape-rendering="crispEdges"><use href="#u5236"/></svg><svg class="g" width="13" height="15" viewBox="0 0 13 15" shape-rendering="crispEdges"><use href="#u52A8"/></svg></span></span>
<span id="s19_3" class="t b" style="transform:translateX(329.34px) scaleX(0.9286);letter-spacing:0.013px">Electromagenetic</span>
<span id="s19_4" class="t b" style="transform:translateX(443.41px) scaleX(0.9286);letter-spacing:-0.124px">braking</span>
<svg class="sq" style="left:329px;top:19px" width="111" height="3" viewBox="0 0 111 3" shape-rendering="crispEdges"><path d="M0 0h1v1h-1zM1 1h1v1h-1zM2 2h1v1h-1zM3 1h1v1h-1zM4 0h1v1h-1zM5 1h1v1h-1zM6 2h1v1h-1zM7 1h1v1h-1zM8 0h1v1h-1zM9 1h1v1h-1zM10 2h1v1h-1zM11 1h1v1h-1zM12 0h1v1h-1zM13 1h1v1h-1zM14 2h1v1h-1zM15 1h1v1h-1zM16 0h1v1h-1zM17 1h1v1h-1zM18 2h1v1h-1zM19 1h1v1h-1zM20 0h1v1h-1zM21 1h1v1h-1zM22 2h1v1h-1zM23 1h1v1h-1zM24 0h1v1h-1zM25 1h1v1h-1zM26 2h1v1h-1zM27 1h1v1h-1zM28 0h1v1h-1zM29 1h1v1h-1zM30 2h1v1h-1zM31 1h1v1h-1zM32 0h1v1h-1zM33 1h1v1h-1zM34 2h1v1h-1zM35 1h1v1h-1zM36 0h1v1h-1zM37 1h1v1h-1zM38 2h1v1h-1zM39 1h1v1h-1zM40 0h1v1h-1zM41 1h1v1h-1zM42 2h1v1h-1zM43 1h1v1h-1zM44 0h1v1h-1zM45 1h1v1h-1zM46 2h1v1h-1zM47 1h1v1h-1zM48 0h1v1h-1zM49 1h1v1h-1zM50 2h1v1h-1zM51 1h1v1h-1zM52 0h1v1h-1zM53 1h1v1h-1zM54 2h1v1h-1zM55 1h1v1h-1zM56 0h1v1h-1zM57 1h1v1h-1zM58 2h1v1h-1zM59 1h1v1h-1zM60 0h1v1h-1zM61 1h1v1h-1zM62 2h1v1h-1zM63 1h1v1h-1zM64 0h1v1h-1zM65 1h1v1h-1zM66 2h1v1h-1zM67 1h1v1h-1zM68 0h1v1h-1zM69 1h1v1h-1zM70 2h1v1h-1zM71 1h1v1h-1zM72 0h1v1h-1zM73 1h1v1h-1zM74 2h1v1h-1zM75 1h1v1h-1zM76 0h1v1h-1zM77 1h1v1h-1zM78 2h1v1h-1zM79 1h1v1h-1zM80 0h1v1h-1zM81 1h1v1h-1zM82 2h1v1h-1zM83 1h1v1h-1zM84 0h1v1h-1zM85 1h1v1h-1zM86 2h1v1h-1zM87 1h1v1h-1zM88 0h1v1h-1zM89 1h1v1h-1zM90 2h1v1h-1zM91 1h1v1h-1zM92 0h1v1h-1zM93 1h1v1h-1zM94 2h1v1h-1zM95 1h1v1h-1zM96 0h1v1h-1zM97 1h1v1h-1zM98 2h1v1h-1zM99 1h1v1h-1zM100 0h1v1h-1zM101 1h1v1h-1zM102 2h1v1h-1zM103 1h1v1h-1zM104 0h1v1h-1zM105 1h1v1h-1zM106 2h1v1h-1zM107 1h1v1h-1zM108 0h1v1h-1zM109 1h1v1h-1zM110 2h1v1h-1z"/></svg>
</div>
</body></html>
